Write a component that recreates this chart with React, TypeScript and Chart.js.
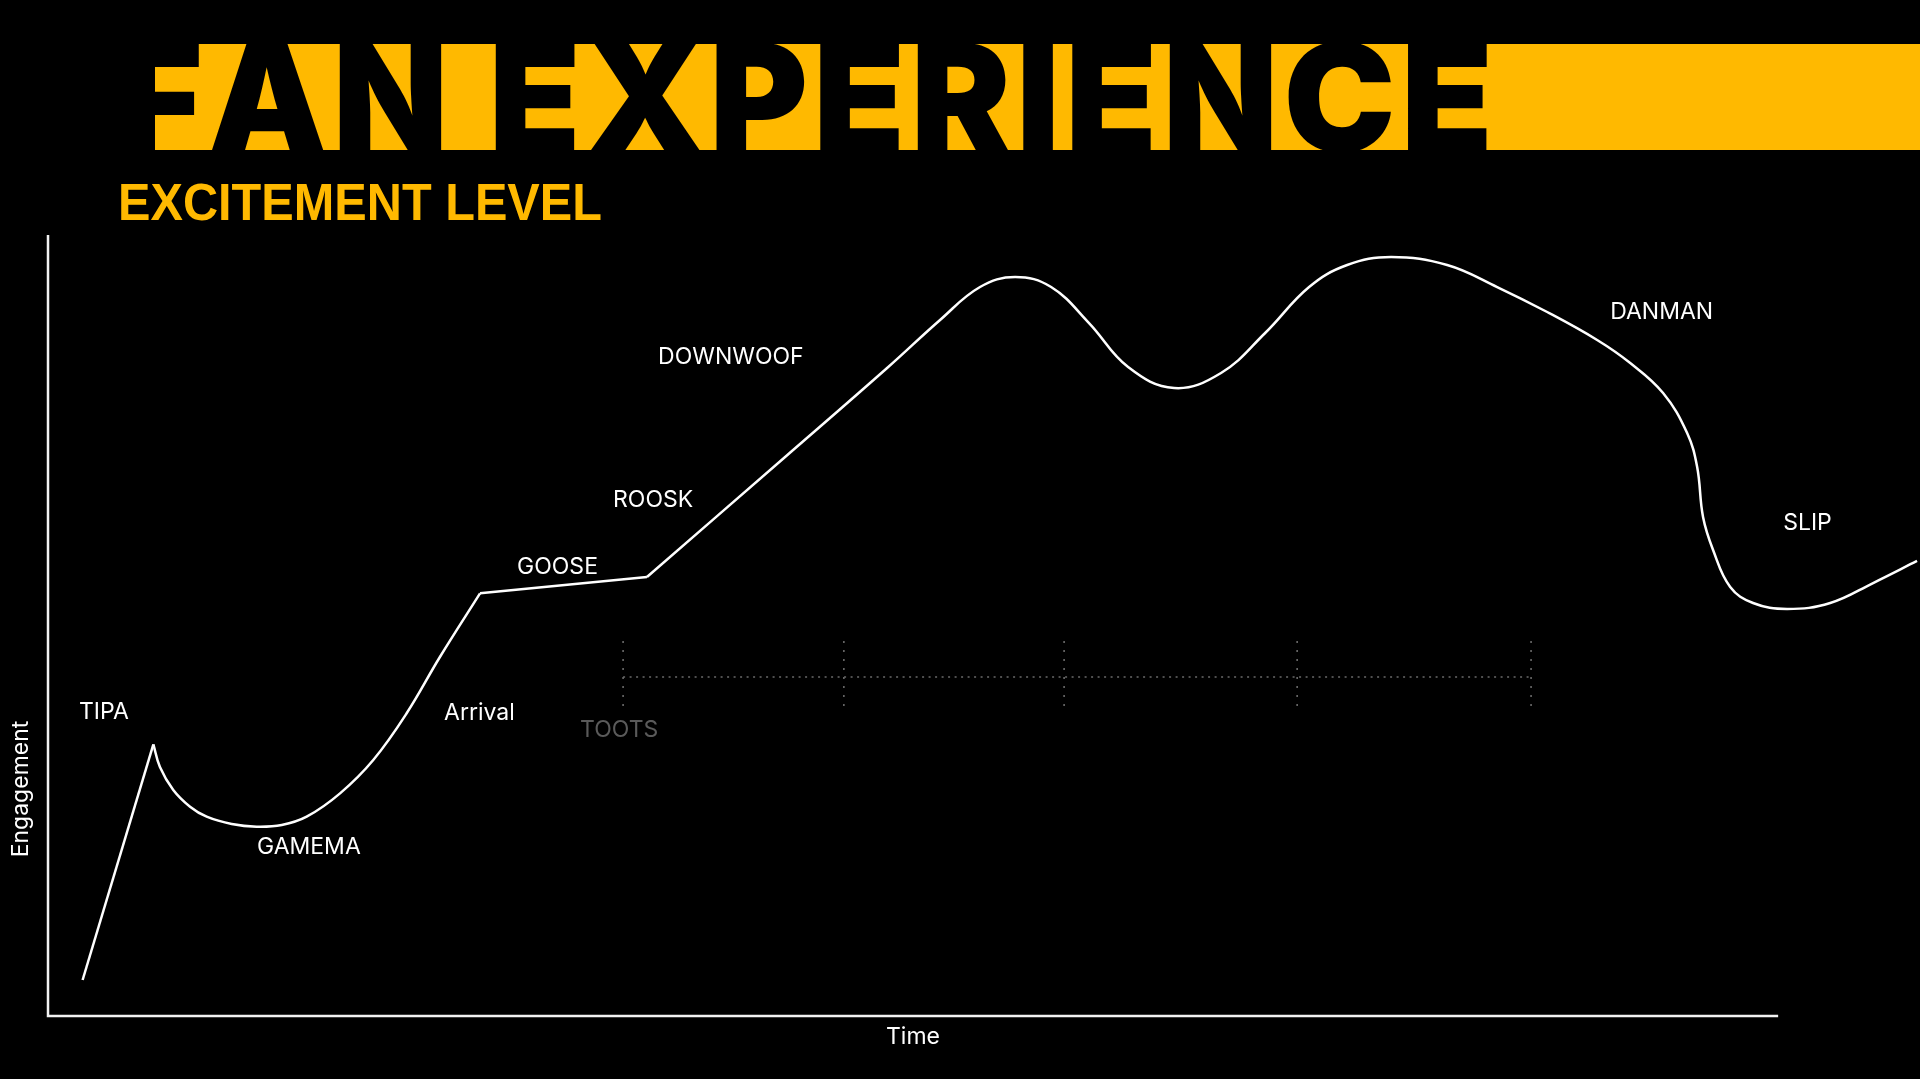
import React, { useEffect, useRef } from "react";
import { Chart, registerables } from "chart.js";

Chart.register(...registerables);

// ---- text ----
const TITLE = "FAN EXPERIENCE";
const SUBTITLE = "EXCITEMENT LEVEL";
const X_TITLE = "Time";
const Y_TITLE = "Engagement";

// ---- axis extents (data units) ----
const TIME_MAX = 108.2; // visible time range
const AXIS_END_TIME = 100; // x-axis line ends here
const LEVEL_MAX = 100;

// ---- curve segments (time, engagement) ----
const rampTime = [2.0, 6.09];
const rampLevel = [4.61, 34.79];

const dipTime = [6.09, 6.47, 7.24, 8.21, 9.17, 10.62, 12.06, 13.51, 14.95, 16.88, 18.8, 20.73, 22.66, 24.97];
const dipLevel = [34.79, 31.88, 28.94, 26.8, 25.52, 24.58, 24.24, 24.46, 25.52, 28.51, 32.78, 38.76, 46.0, 54.12];

const plateauTime = [24.97, 34.62];
const plateauLevel = [54.12, 56.21];

const climbTime = [
  34.62, 42.72, 48.5, 51.56, 53.87, 55.9, 57.98, 60.17, 62.43, 65.09, 67.8, 70.35, 72.89, 75.09,
  77.63, 80.87, 83.76, 86.65, 89.54, 91.45, 93.35, 94.74, 95.32, 95.66, 96.24, 97.23, 98.55,
  100.52, 103.01, 105.49, 108.03,
];
const climbLevel = [
  56.21, 71.8, 82.97, 89.12, 93.34, 94.62, 93.34, 88.73, 83.1, 80.41, 82.33, 87.45, 93.34, 96.16,
  97.18, 96.16, 93.34, 90.14, 86.56, 83.61, 79.77, 74.65, 70.29, 63.89, 59.67, 54.93, 52.88,
  52.11, 52.88, 55.44, 58.26,
];

// ---- stage labels ----
const stageNames = ["TIPA", "GAMEMA", "Arrival", "GOOSE", "ROOSK", "DOWNWOOF", "DANMAN", "SLIP"];
const stageTime = [1.79, 12.08, 22.89, 27.11, 32.66, 35.26, 90.29, 100.29];
const stageLevel = [38.9, 21.6, 38.8, 57.5, 66.1, 84.4, 90.1, 63.1];

// ---- TOOTS dotted bracket ----
const tootsName = "TOOTS";
const tootsLabelTime = 30.75;
const tootsLabelLevel = 36.6;
const tootsTicks = [33.24, 46.0, 58.73, 72.2, 85.72];
const tootsLevel = 43.4;
const tootsTickTop = 48.0;
const tootsTickBottom = 39.4;

const YELLOW = "#FFB900";

const toXY = (t: number[], v: number[]) => t.map((x, i) => ({ x, y: v[i] }));

const overlayPlugin = {
  id: "overlay",
  beforeDraw(chart: any) {
    const ctx = chart.ctx as CanvasRenderingContext2D;
    const W = chart.width;
    const H = chart.height;
    ctx.save();
    ctx.fillStyle = "#000";
    ctx.fillRect(0, 0, W, H);

    // title band
    const bandX = 155, bandY = 44, bandH = 106;
    ctx.fillStyle = YELLOW;
    ctx.fillRect(bandX, bandY, W - bandX, bandH);
    ctx.save();
    ctx.beginPath();
    ctx.rect(bandX, bandY, W - bandX, bandH);
    ctx.clip();
    ctx.fillStyle = "#000";
    ctx.font = "900 150px Inter";
    ctx.textBaseline = "alphabetic";
    ctx.textAlign = "left";
    const chars = TITLE.split("");
    const widths = chars.map((c) => ctx.measureText(c).width);
    const total = widths.reduce((a, b) => a + b, 0);
    const start = 115, end = 1493;
    const gap = (end - start - total) / (chars.length - 1);
    let x = start;
    chars.forEach((c, i) => {
      ctx.fillText(c, x, bandY + bandH / 2 + 55);
      x += widths[i] + gap;
    });
    ctx.restore();

    // subtitle
    ctx.save();
    ctx.fillStyle = YELLOW;
    ctx.font = "bold 52px 'Liberation Sans', Arial, sans-serif";
    ctx.textBaseline = "alphabetic";
    const sw = ctx.measureText(SUBTITLE).width;
    const targetW = 484;
    ctx.translate(118, 220);
    ctx.scale(targetW / sw, 1);
    ctx.fillText(SUBTITLE, 0, 0);
    ctx.restore();
    ctx.restore();
  },
  afterDatasetsDraw(chart: any) {
    const ctx = chart.ctx as CanvasRenderingContext2D;
    const xs = chart.scales.x;
    const ys = chart.scales.y;
    const px = (t: number) => xs.getPixelForValue(t);
    const py = (v: number) => ys.getPixelForValue(v);
    ctx.save();

    // axes
    ctx.strokeStyle = "#f2f2f2";
    ctx.lineWidth = 2.5;
    ctx.beginPath();
    ctx.moveTo(px(0), py(LEVEL_MAX));
    ctx.lineTo(px(0), py(0));
    ctx.lineTo(px(AXIS_END_TIME), py(0));
    ctx.stroke();

    // TOOTS dotted bracket
    ctx.strokeStyle = "#6a6a6a";
    ctx.lineWidth = 1.6;
    ctx.setLineDash([2, 4.5]);
    ctx.beginPath();
    ctx.moveTo(px(tootsTicks[0]), py(tootsLevel));
    ctx.lineTo(px(tootsTicks[tootsTicks.length - 1]), py(tootsLevel));
    ctx.stroke();
    ctx.setLineDash([2, 7]);
    tootsTicks.forEach((t) => {
      ctx.beginPath();
      ctx.moveTo(px(t), py(tootsTickTop));
      ctx.lineTo(px(t), py(tootsTickBottom));
      ctx.stroke();
    });
    ctx.setLineDash([]);

    // labels
    ctx.font = "23px Inter";
    ctx.textBaseline = "middle";
    ctx.textAlign = "left";
    ctx.fillStyle = "#ffffff";
    stageNames.forEach((n, i) => {
      ctx.fillText(n, px(stageTime[i]), py(stageLevel[i]));
    });
    ctx.fillStyle = "#5a5a5a";
    ctx.fillText(tootsName, px(tootsLabelTime), py(tootsLabelLevel));

    // axis titles
    ctx.fillStyle = "#ffffff";
    ctx.textAlign = "center";
    ctx.fillText(X_TITLE, 913, 1037);
    ctx.save();
    ctx.translate(21, 789);
    ctx.rotate(-Math.PI / 2);
    ctx.fillText(Y_TITLE, 0, 0);
    ctx.restore();

    ctx.restore();
  },
};

export default function App() {
  const ref = useRef<HTMLCanvasElement | null>(null);
  useEffect(() => {
    document.body.style.margin = "0";
    document.body.style.background = "#000";
    if (!ref.current) return;
    const lineStyle = {
      borderColor: "#ffffff",
      borderWidth: 2.5,
      pointRadius: 0,
      fill: false,
      clip: 10,
      borderJoinStyle: "round",
    };
    const chart = new Chart(ref.current, {
      type: "line",
      data: {
        datasets: [
          { ...lineStyle, data: toXY(rampTime, rampLevel), tension: 0 },
          { ...lineStyle, data: toXY(dipTime, dipLevel), tension: 0.4 },
          { ...lineStyle, data: toXY(plateauTime, plateauLevel), tension: 0 },
          { ...lineStyle, data: toXY(climbTime, climbLevel), tension: 0.4 },
        ] as any,
      },
      options: {
        responsive: false,
        animation: false,
        devicePixelRatio: 1,
        layout: { padding: { left: 48, top: 235, right: 0, bottom: 63 } },
        scales: {
          x: { type: "linear", min: 0, max: TIME_MAX, display: false },
          y: { type: "linear", min: 0, max: LEVEL_MAX, display: false },
        },
        plugins: { legend: { display: false }, tooltip: { enabled: false } },
        events: [],
      },
      plugins: [overlayPlugin],
    });
    return () => chart.destroy();
  }, []);
  return (
    <div style={{ position: "fixed", left: 0, top: 0, width: 1920, height: 1079, background: "#000", overflow: "hidden" }}>
      <canvas ref={ref} width={1920} height={1079} style={{ display: "block", width: 1920, height: 1079 }} />
    </div>
  );
}
